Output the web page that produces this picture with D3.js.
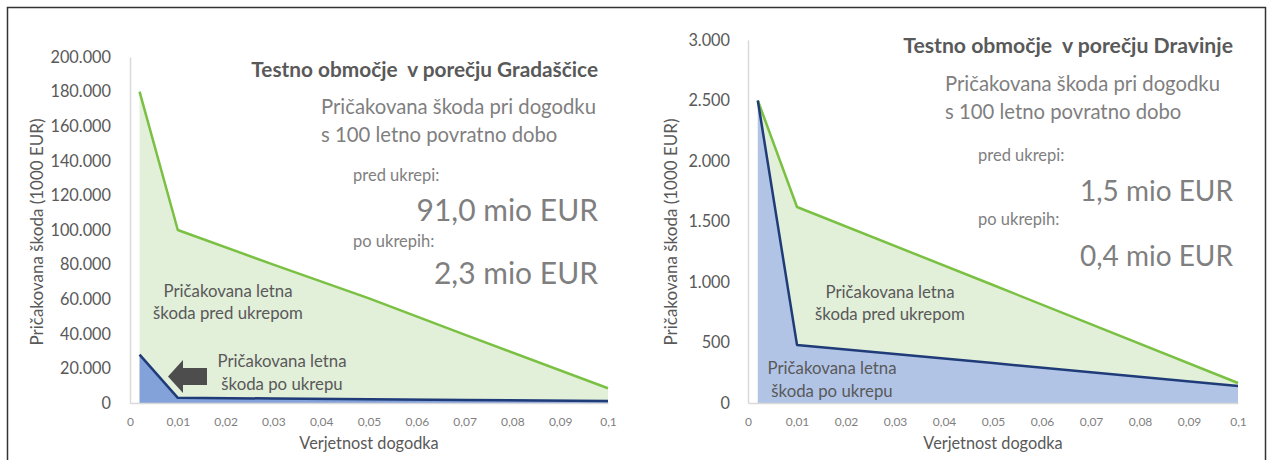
<!DOCTYPE html>
<html>
<head>
<meta charset="utf-8">
<script src="https://cdn.jsdelivr.net/npm/d3@7"></script>
<style>
  html, body { margin: 0; padding: 0; background: #ffffff; }
  svg { display: block; font-family: Lato, "Open Sans", sans-serif; }
</style>
</head>
<body>
<svg id="chart" width="1271" height="460"></svg>
<script>
// ---------- DATA ----------
const xTicks = [0, 0.01, 0.02, 0.03, 0.04, 0.05, 0.06, 0.07, 0.08, 0.09, 0.1];
const xTickLabels = ["0", "0,01", "0,02", "0,03", "0,04", "0,05", "0,06", "0,07", "0,08", "0,09", "0,1"];

// Gradaščica (left)
const gradX = [0.002, 0.01, 0.03, 0.05, 0.07, 0.1];
const gradPred = [180000, 100000, 80000, 60500, 39500, 8500];
const gradPo = [28000, 3000, 2600, 2100, 1700, 1200];
const gradYTicks = [0, 20000, 40000, 60000, 80000, 100000, 120000, 140000, 160000, 180000, 200000];
const gradYTickLabels = ["0", "20.000", "40.000", "60.000", "80.000", "100.000", "120.000", "140.000", "160.000", "180.000", "200.000"];

// Dravinja (right)
const dravX = [0.002, 0.01, 0.05, 0.1];
const dravPred = [2500, 1620, 975, 165];
const dravPo = [2500, 480, 330, 140];
const dravYTicks = [0, 500, 1000, 1500, 2000, 2500, 3000];
const dravYTickLabels = ["0", "500", "1.000", "1.500", "2.000", "2.500", "3.000"];

// Texts
const xTitle = "Verjetnost dogodka";
const yTitle = "Pričakovana škoda (1000 EUR)";
const predLabel = ["Pričakovana letna", "škoda pred ukrepom"];
const poLabel = ["Pričakovana letna", "škoda po ukrepu"];
const subtitle = ["Pričakovana škoda pri dogodku", "s 100 letno povratno dobo"];
const predText = "pred ukrepi:";
const poText = "po ukrepih:";

// ---------- STYLE ----------
const C = {
  greenLine: "#7ac143",
  greenFill: "#e2efd9",
  blueLine: "#1f3b78",
  textDark: "#595959",
  textLight: "#7f7f7f",
  axis: "#d9d9d9",
  arrow: "#4d4d4d"
};

const svg = d3.select("#chart");

// outer frame
svg.append("rect")
  .attr("x", 7.5).attr("y", 7.5).attr("width", 1258).attr("height", 470)
  .attr("fill", "none").attr("stroke", "#333").attr("stroke-width", 1.5);

function panel(cfg) {
  const g = svg.append("g");
  const x = d3.scaleLinear().domain([0, 0.1]).range([cfg.x0, cfg.x1]);
  const y = d3.scaleLinear().domain([0, cfg.yMax]).range([cfg.yBottom, cfg.yTop]);

  const predData = cfg.xs.map((v, i) => ({ x: v, y: cfg.pred[i] }));
  const poData = cfg.xs.map((v, i) => ({ x: v, y: cfg.po[i] }));

  const area = d3.area().x(d => x(d.x)).y0(y(0)).y1(d => y(d.y));
  const line = d3.line().x(d => x(d.x)).y(d => y(d.y));

  g.append("path").datum(predData).attr("d", area).attr("fill", C.greenFill);
  g.append("path").datum(poData).attr("d", area).attr("fill", cfg.blueFill);

  // axes
  const yAxis = d3.axisLeft(y).tickValues(cfg.yTicks).tickSize(0).tickPadding(cfg.yPad)
    .tickFormat((d, i) => cfg.yLabels[i]);
  const ya = g.append("g").attr("transform", `translate(${cfg.x0},0)`).call(yAxis);
  ya.select(".domain").attr("stroke", C.axis).attr("stroke-width", 1.5);
  ya.selectAll("text").attr("fill", C.textDark).attr("font-size", 16.3).attr("font-family", "Lato");

  const xAxis = d3.axisBottom(x).tickValues(xTicks).tickSize(0).tickPadding(14)
    .tickFormat((d, i) => xTickLabels[i]);
  const xa = g.append("g").attr("transform", `translate(0,${cfg.yBottom})`).call(xAxis);
  xa.select(".domain").attr("stroke", C.axis).attr("stroke-width", 1.5);
  xa.selectAll("text").attr("fill", C.textLight).attr("font-size", 12).attr("font-family", "Lato");

  // lines
  g.append("path").datum(predData).attr("d", line).attr("fill", "none")
    .attr("stroke", C.greenLine).attr("stroke-width", 2.5).attr("stroke-linejoin", "round");
  g.append("path").datum(poData).attr("d", line).attr("fill", "none")
    .attr("stroke", C.blueLine).attr("stroke-width", 2.5).attr("stroke-linejoin", "round");

  // axis titles
  g.append("text").attr("x", (cfg.x0 + cfg.x1) / 2).attr("y", 449)
    .attr("text-anchor", "middle").attr("fill", C.textDark).attr("font-size", 16.3).text(xTitle);
  g.append("text").attr("transform", `translate(${cfg.yTitleX},232) rotate(-90)`)
    .attr("text-anchor", "middle").attr("fill", C.textDark).attr("font-size", 17).text(yTitle);

  // title block
  g.append("text").attr("x", cfg.textRight).attr("y", cfg.titleY).attr("text-anchor", "end")
    .attr("fill", C.textDark).attr("font-size", cfg.titleSize).attr("font-weight", "bold").text(cfg.title);
  subtitle.forEach((s, i) => {
    g.append("text").attr("x", cfg.subX).attr("y", cfg.subY + i * 28)
      .attr("fill", C.textLight).attr("font-size", 20.3).text(s);
  });
  g.append("text").attr("x", cfg.smallX).attr("y", cfg.predY)
    .attr("fill", C.textLight).attr("font-size", 16.5).text(predText);
  g.append("text").attr("x", cfg.textRight).attr("y", cfg.predValY).attr("text-anchor", "end")
    .attr("fill", C.textLight).attr("font-size", cfg.valSize).text(cfg.predVal);
  g.append("text").attr("x", cfg.smallX).attr("y", cfg.poY)
    .attr("fill", C.textLight).attr("font-size", 16.5).text(poText);
  g.append("text").attr("x", cfg.textRight).attr("y", cfg.poValY).attr("text-anchor", "end")
    .attr("fill", C.textLight).attr("font-size", cfg.valSize).text(cfg.poVal);

  // series labels
  predLabel.forEach((s, i) => {
    g.append("text").attr("x", cfg.predLabX).attr("y", cfg.predLabY + i * 22)
      .attr("text-anchor", "middle").attr("fill", C.textDark).attr("font-size", 16.8).text(s);
  });
  poLabel.forEach((s, i) => {
    g.append("text").attr("x", cfg.poLabX).attr("y", cfg.poLabY + i * 23)
      .attr("text-anchor", "middle").attr("fill", C.textDark).attr("font-size", 16.8).text(s);
  });
  return g;
}

const left = panel({
  x0: 130, x1: 608, yTop: 57, yBottom: 403, yMax: 200000,
  xs: gradX, pred: gradPred, po: gradPo,
  yTicks: gradYTicks, yLabels: gradYTickLabels, yPad: 19,
  blueFill: "#84a2da", yTitleX: 43,
  title: "Testno območje\u00a0 v porečju Gradaščice", titleSize: 20.8, textRight: 598, titleY: 77,
  subX: 321, subY: 114, smallX: 353, predY: 181, predValY: 221, poY: 247, poValY: 284,
  valSize: 30, predVal: "91,0 mio EUR", poVal: "2,3 mio EUR",
  predLabX: 228, predLabY: 297, poLabX: 282, poLabY: 367
});

// block arrow in the left panel (annotation)
left.append("path")
  .attr("d", "M168,376.5 L183,360 L183,368 L207,368 L207,385 L183,385 L183,393 Z")
  .attr("fill", C.arrow);

panel({
  x0: 748, x1: 1238, yTop: 40, yBottom: 403, yMax: 3000,
  xs: dravX, pred: dravPred, po: dravPo,
  yTicks: dravYTicks, yLabels: dravYTickLabels, yPad: 18,
  blueFill: "#b1c4e6", yTitleX: 677,
  title: "Testno območje\u00a0 v porečju Dravinje", titleSize: 21.2, textRight: 1233, titleY: 53,
  subX: 945, subY: 91, smallX: 978, predY: 161, predValY: 201, poY: 225, poValY: 266,
  valSize: 28, predVal: "1,5 mio EUR", poVal: "0,4 mio EUR",
  predLabX: 890, predLabY: 298, poLabX: 832, poLabY: 374
});
</script>
</body>
</html>
